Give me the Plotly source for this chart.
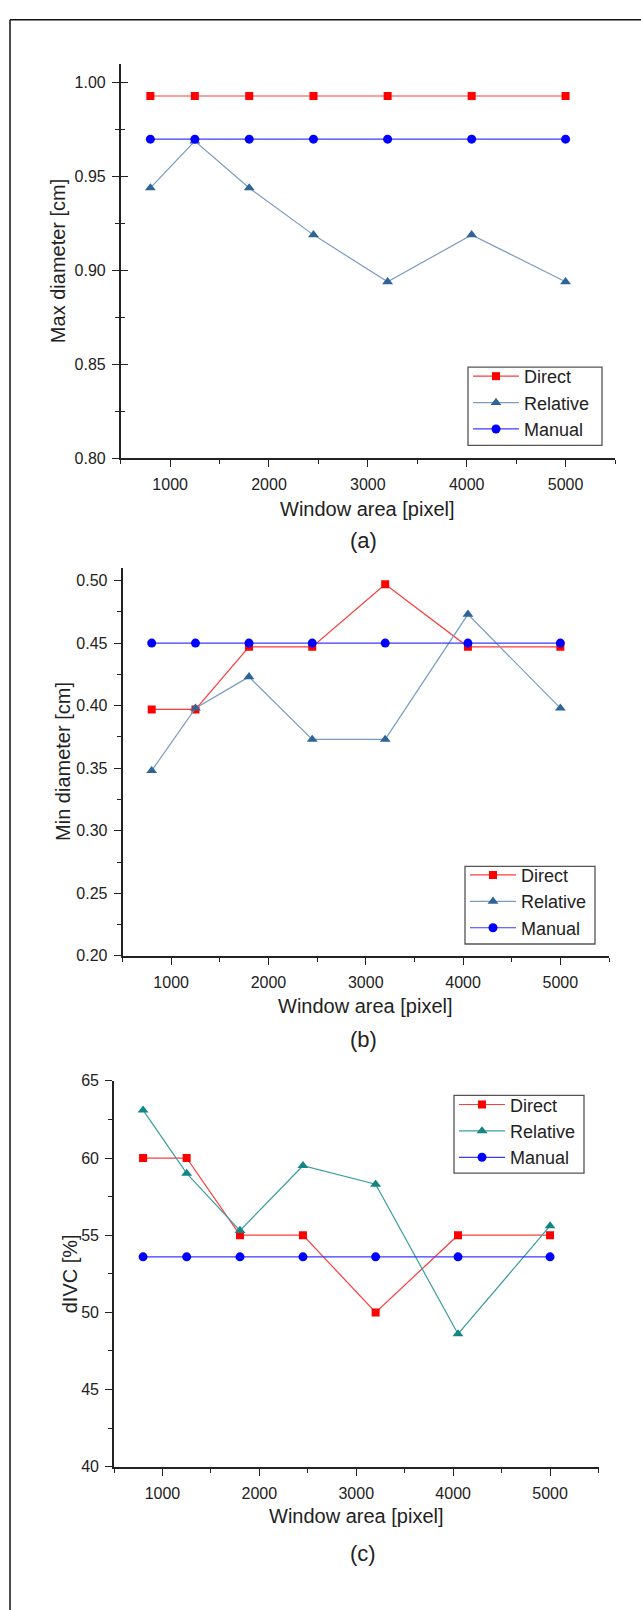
import plotly.graph_objects as go

# ---------------- data ----------------
window_area = [800, 1250, 1800, 2450, 3200, 4050, 5000]

max_direct = [0.993, 0.993, 0.993, 0.993, 0.993, 0.993, 0.993]
max_relative = [0.944, 0.969, 0.944, 0.919, 0.894, 0.919, 0.894]
max_manual = [0.970, 0.970, 0.970, 0.970, 0.970, 0.970, 0.970]

min_direct = [0.397, 0.397, 0.447, 0.447, 0.497, 0.447, 0.447]
min_relative = [0.348, 0.398, 0.423, 0.373, 0.373, 0.473, 0.398]
min_manual = [0.450, 0.450, 0.450, 0.450, 0.450, 0.450, 0.450]

divc_direct = [60.0, 60.0, 55.0, 55.0, 50.0, 55.0, 55.0]
divc_relative = [63.1, 59.0, 55.3, 59.5, 58.3, 48.6, 55.6]
divc_manual = [53.6, 53.6, 53.6, 53.6, 53.6, 53.6, 53.6]

series_names = ["Direct", "Relative", "Manual"]
panel_labels = ["(a)", "(b)", "(c)"]
y_titles = ["Max diameter [cm]", "Min diameter [cm]", "dIVC [%]"]
x_title = "Window area [pixel]"

# ---------------- layout helpers ----------------
W, H = 641, 1610
FONT = "Arial, Liberation Sans, sans-serif"
TXT = "#222222"


def px(x):
    return x / W


def py(y):
    return 1 - y / H


fig = go.Figure()

panels = [
    dict(data=(max_direct, max_relative, max_manual), x0=120.7, x1=615, top=56.7, bot=455,
         yrange=[0.80, 1.01], dtick=0.05, minor=0.025, fmt=".2f",
         rel_marker="#2f6496", rel_line="#7a9cc0",
         legbox=(468, 363, 602, 442), leg_first=377.7, ytitle_x=58, xtitle_y=506, label_y=538),
    dict(data=(min_direct, min_relative, min_manual), x0=122.5, x1=609, top=566, bot=958,
         yrange=[0.20, 0.51], dtick=0.05, minor=0.025, fmt=".2f",
         rel_marker="#2f6496", rel_line="#7a9cc0",
         legbox=(465, 867.5, 595, 946), leg_first=881.8, ytitle_x=63, xtitle_y=1008.6, label_y=1043),
    dict(data=(divc_direct, divc_relative, divc_manual), x0=114, x1=598.5, top=1084.3, bot=1474.3,
         yrange=[40, 65], dtick=5, minor=2.5, fmt="d",
         rel_marker="#138585", rel_line="#3a9e9e",
         legbox=(454, 1099, 584, 1177.5), leg_first=1113.8, ytitle_x=69.5, xtitle_y=1523.6, label_y=1562),
]

annotations = []
shapes = [
    dict(type="line", xref="paper", yref="paper", x0=px(10), x1=px(10), y0=py(12), y1=-0.05,
         line=dict(color="#111111", width=1.5)),
    dict(type="line", xref="paper", yref="paper", x0=px(10), x1=1.05, y0=py(12), y1=py(12),
         line=dict(color="#111111", width=1.5)),
]
for i, p in enumerate(panels):
    n = i + 1
    xa = "x" if n == 1 else f"x{n}"
    ya = "y" if n == 1 else f"y{n}"
    leg = "legend" if n == 1 else f"legend{n}"
    d, r, m = p["data"]
    fig.add_trace(go.Scatter(x=window_area, y=d, name=series_names[0], mode="lines+markers",
                             line=dict(color="#ff3b3b", width=1.2),
                             marker=dict(symbol="square", size=8, color="#ff0000"),
                             xaxis=xa, yaxis=ya, legend=leg))
    fig.add_trace(go.Scatter(x=window_area, y=r, name=series_names[1], mode="lines+markers",
                             line=dict(color=p["rel_line"], width=1.2),
                             marker=dict(symbol="triangle-up", size=9.5, color=p["rel_marker"]),
                             xaxis=xa, yaxis=ya, legend=leg))
    fig.add_trace(go.Scatter(x=window_area, y=m, name=series_names[2], mode="lines+markers",
                             line=dict(color="#3a3aff", width=1.2),
                             marker=dict(symbol="circle", size=9, color="#0000ff"),
                             xaxis=xa, yaxis=ya, legend=leg))

    xdom = [px(p["x0"]), px(p["x1"])]
    ydom = [py(p["bot"]), py(p["top"])]
    common = dict(showgrid=False, zeroline=False, showline=True, linecolor=TXT, linewidth=1.6,
                  tickcolor=TXT, tickwidth=1.4, ticks="outside", ticklen=7,
                  tickfont=dict(family=FONT, size=16, color=TXT), mirror=False)
    fig.layout[f"xaxis{'' if n == 1 else n}"] = dict(
        common, domain=xdom, range=[500, 5500], anchor=ya, tick0=0, dtick=1000,
        minor=dict(ticks="outside", ticklen=4, tick0=500, dtick=500, tickcolor=TXT, tickwidth=1.4),
        ticklabelstandoff=4)
    fig.layout[f"yaxis{'' if n == 1 else n}"] = dict(
        common, domain=ydom, range=p["yrange"], anchor=xa, tick0=p["yrange"][0], dtick=p["dtick"],
        tickformat=p["fmt"],
        minor=dict(ticks="outside", ticklen=4, dtick=p["minor"], tickcolor=TXT, tickwidth=1.4),
        ticklabelstandoff=3)

    bx0, by0, bx1, by1 = p["legbox"]
    shapes.append(dict(type="rect", xref="paper", yref="paper", layer="above",
                       x0=px(bx0), x1=px(bx1), y0=py(by1), y1=py(by0),
                       line=dict(color="#555555", width=1.3), fillcolor="white"))
    fig.layout[leg] = dict(x=px(bx0), y=py(p["leg_first"] - 24), xanchor="left", yanchor="top",
                           borderwidth=0, bgcolor="rgba(0,0,0,0)",
                           font=dict(family=FONT, size=18, color=TXT), tracegroupgap=0,
                           itemwidth=46)

    annotations.append(dict(text=y_titles[i], x=px(p["ytitle_x"]), y=py((p["top"] + p["bot"]) / 2),
                            xref="paper", yref="paper", showarrow=False, textangle=-90,
                            xanchor="center", yanchor="middle",
                            font=dict(family=FONT, size=20, color=TXT)))
    annotations.append(dict(text=x_title, x=px((p["x0"] + p["x1"]) / 2), y=py(p["xtitle_y"]),
                            xref="paper", yref="paper", showarrow=False,
                            xanchor="center", yanchor="middle",
                            font=dict(family=FONT, size=20, color=TXT)))
    annotations.append(dict(text=panel_labels[i], x=px(363), y=py(p["label_y"]),
                            xref="paper", yref="paper", showarrow=False,
                            xanchor="center", yanchor="middle",
                            font=dict(family=FONT, size=22, color=TXT)))

# inward half of the crossing ticks on panel (a)
fig.add_trace(go.Scatter(x=[], y=[], xaxis="x", yaxis="y4", showlegend=False, hoverinfo="skip"))
fig.layout["yaxis4"] = dict(domain=[py(455), py(56.7)], range=[0.80, 1.01], overlaying="y", anchor="x",
                            showgrid=False, zeroline=False, showline=False, showticklabels=False,
                            ticks="inside", ticklen=7, tickcolor=TXT, tickwidth=1.4,
                            tick0=0.80, dtick=0.05,
                            minor=dict(ticks="inside", ticklen=4, dtick=0.025, tickcolor=TXT, tickwidth=1.4))

fig.update_layout(
    width=W, height=H, autosize=False,
    margin=dict(l=0, r=0, t=0, b=0),
    paper_bgcolor="white", plot_bgcolor="white",
    annotations=annotations,
    shapes=shapes,
)

fig.write_html("out.html")
